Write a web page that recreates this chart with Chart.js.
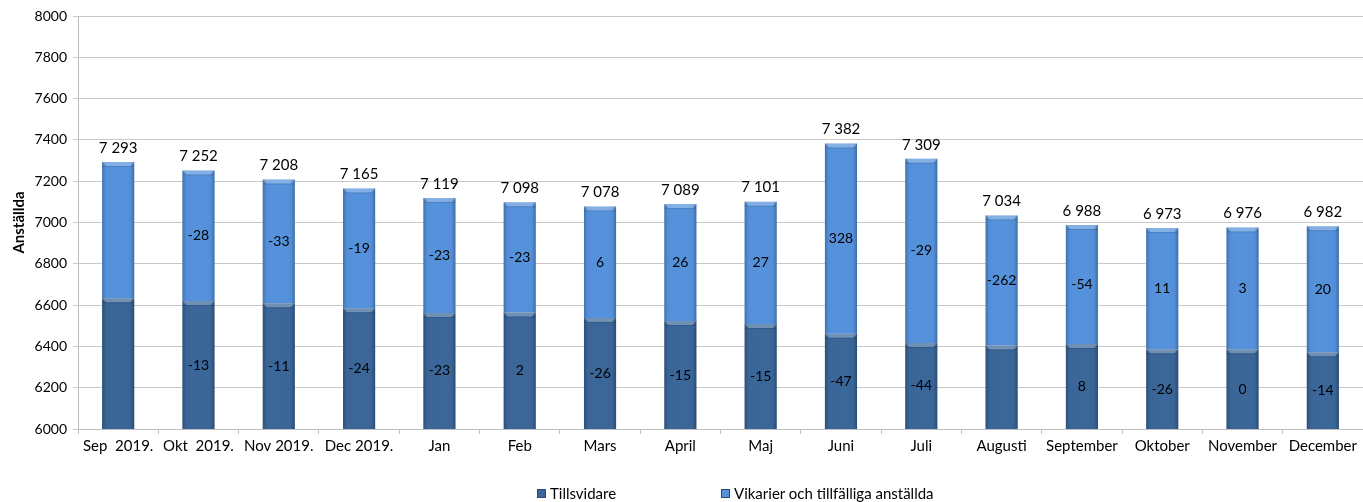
<!DOCTYPE html>
<html>
<head>
<meta charset="utf-8">
<script src="https://cdn.jsdelivr.net/npm/chart.js@4.4.0/dist/chart.umd.min.js"></script>
<style>
  html, body { margin: 0; padding: 0; background: #fff; }
  #wrap { width: 1363px; height: 502px; position: relative; }
  #legend { position: absolute; left: 0; width: 1363px; top: 484px; height: 18px; font-family: Lato, "Open Sans", sans-serif; font-size: 15px; color: #000; }
  .item { position: absolute; top: 0; height: 18px; display: flex; align-items: center; white-space: nowrap; }
  .sw { width: 7px; height: 7px; border: 1px solid #2a4a75; margin-right: 4px; }
</style>
</head>
<body>
<div id="wrap"><canvas id="c"></canvas>
<div id="legend"></div></div>
<script>
const categories = ['Sep  2019.', 'Okt  2019.', 'Nov 2019.', 'Dec 2019.', 'Jan', 'Feb', 'Mars', 'April', 'Maj', 'Juni', 'Juli', 'Augusti', 'September', 'Oktober', 'November', 'December'];
const tillsvidare = [6633, 6620, 6609, 6585, 6562, 6564, 6538, 6523, 6508, 6461, 6417, 6404, 6412, 6386, 6386, 6372];
const vikarier = [660, 632, 599, 580, 557, 534, 540, 566, 593, 921, 892, 630, 576, 587, 590, 610];
const tillsvidareChange = [null, '-13', '-11', '-24', '-23', '2', '-26', '-15', '-15', '-47', '-44', null, '8', '-26', '0', '-14'];
const vikarierChange = [null, '-28', '-33', '-19', '-23', '-23', '6', '26', '27', '328', '-29', '-262', '-54', '11', '3', '20'];
const totals = ['7 293', '7 252', '7 208', '7 165', '7 119', '7 098', '7 078', '7 089', '7 101', '7 382', '7 309', '7 034', '6 988', '6 973', '6 976', '6 982'];
const yTicks = [6000, 6200, 6400, 6600, 6800, 7000, 7200, 7400, 7600, 7800, 8000];
const seriesNames = ['Tillsvidare', 'Vikarier och tillfälliga anställda'];

const FONT = 'Lato, "Open Sans", sans-serif';
const DARK = '#3A6699';
const LIGHT = '#5592DC';

const bevelPlugin = {
  id: 'bevel',
  afterDatasetsDraw(chart) {
    const ctx = chart.ctx;
    chart.data.datasets.forEach((ds, di) => {
      const meta = chart.getDatasetMeta(di);
      meta.data.forEach((bar) => {
        const left = bar.x - bar.width / 2, right = bar.x + bar.width / 2;
        const top = Math.min(bar.y, bar.base), bottom = Math.max(bar.y, bar.base);
        ctx.save();
        const g = ctx.createLinearGradient(left, 0, right, 0);
        g.addColorStop(0, 'rgba(0,0,0,0.22)');
        g.addColorStop(0.12, 'rgba(0,0,0,0.02)');
        g.addColorStop(0.5, 'rgba(255,255,255,0.0)');
        g.addColorStop(0.88, 'rgba(0,0,0,0.02)');
        g.addColorStop(1, 'rgba(0,0,0,0.25)');
        ctx.fillStyle = g;
        ctx.fillRect(left, top, right - left, bottom - top);
        const cap = 4;
        ctx.beginPath();
        ctx.moveTo(left, top);
        ctx.lineTo(right, top);
        ctx.lineTo(right - cap, top + cap);
        ctx.lineTo(left + cap, top + cap);
        ctx.closePath();
        ctx.fillStyle = 'rgba(255,255,255,0.28)';
        ctx.fill();
        ctx.fillStyle = 'rgba(0,0,0,0.12)';
        ctx.fillRect(left, top + cap, right - left, 1);
        ctx.restore();
      });
    });
  }
};

const labelPlugin = {
  id: 'labels',
  afterDatasetsDraw(chart) {
    const ctx = chart.ctx;
    ctx.save();
    ctx.textAlign = 'center';
    ctx.textBaseline = 'middle';
    ctx.fillStyle = '#000';
    const changes = [tillsvidareChange, vikarierChange];
    chart.data.datasets.forEach((ds, di) => {
      const meta = chart.getDatasetMeta(di);
      meta.data.forEach((bar, i) => {
        const t = changes[di][i];
        if (t !== null) {
          ctx.font = '14px ' + FONT;
          ctx.fillText(t, bar.x, (bar.y + bar.base) / 2);
        }
        if (di === 1) {
          ctx.font = '15px ' + FONT;
          ctx.fillText(totals[i], bar.x, bar.y - 14);
        }
      });
    });
    ctx.restore();
  }
};

const colors = [DARK, LIGHT];
const legendLeft = [537, 721];
const legendEl = document.getElementById('legend');
seriesNames.forEach((n, i) => {
  const it = document.createElement('div');
  it.className = 'item';
  it.style.left = legendLeft[i] + 'px';
  const sw = document.createElement('div');
  sw.className = 'sw';
  sw.style.background = colors[i];
  const tx = document.createElement('span');
  tx.textContent = n;
  it.appendChild(sw); it.appendChild(tx);
  legendEl.appendChild(it);
});

new Chart(document.getElementById('c'), {
  type: 'bar',
  data: {
    labels: categories,
    datasets: [
      { label: seriesNames[0], data: tillsvidare.map((v) => [6000, v]), backgroundColor: DARK, barPercentage: 0.4, categoryPercentage: 1 },
      { label: seriesNames[1], data: vikarier.map((v, i) => [tillsvidare[i], tillsvidare[i] + v]), backgroundColor: LIGHT, barPercentage: 0.4, categoryPercentage: 1 }
    ]
  },
  options: {
    responsive: true,
    maintainAspectRatio: false,
    animation: false,
    layout: { padding: { top: 16, right: 0, left: 0, bottom: 33 } },
    plugins: {
      tooltip: { enabled: false },
      legend: { display: false }
    },
    scales: {
      x: {
        stacked: true,
        grid: { display: true, drawOnChartArea: false, drawTicks: true, tickLength: 5, color: '#BFBFBF', offset: true },
        border: { color: '#BFBFBF' },
        ticks: { font: { family: FONT, size: 15 }, color: '#000', maxRotation: 0, autoSkip: false, padding: 3 },
        afterFit(scale) { scale.height = 40; }
      },
      y: {
        stacked: false,
        min: 6000,
        max: 8000,
        afterBuildTicks(scale) { scale.ticks = yTicks.map((v) => ({ value: v })); },
        grid: { color: '#C8C8C8', tickLength: 5 },
        border: { color: '#BFBFBF' },
        ticks: { font: { family: FONT, size: 14 }, color: '#000', padding: 6, callback: (v) => String(v) },
        title: { display: true, text: 'Anställda', font: { family: FONT, size: 15, weight: 'bold' }, color: '#000', padding: { top: 10, bottom: 4 } },
        afterFit(scale) { scale.width = 78; }
      }
    }
  },
  plugins: [bevelPlugin, labelPlugin]
});
</script>
</body>
</html>
